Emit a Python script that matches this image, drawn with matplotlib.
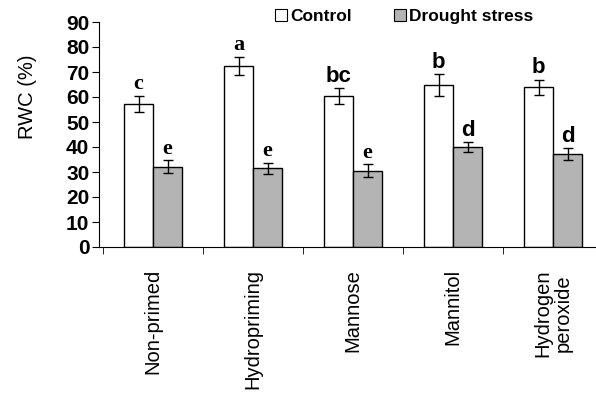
import numpy as np
import matplotlib
matplotlib.use("Agg")
from matplotlib import pyplot as plt
from matplotlib.patches import Patch

# data
treatments = ["Non-primed", "Hydropriming", "Mannose", "Mannitol", "Hydrogen\nperoxide"]
control = [57.3, 72.5, 60.4, 64.8, 63.9]
control_err = [3.2, 3.6, 3.2, 4.3, 3.0]
drought = [32.1, 31.5, 30.5, 39.9, 37.2]
drought_err = [2.6, 2.2, 2.6, 2.0, 2.3]
control_letters = ["c", "a", "bc", "b", "b"]
drought_letters = ["e", "e", "e", "d", "d"]

fig = plt.figure(figsize=(5.96, 3.98), dpi=100)
ax = fig.add_axes([99/596, 151/398, 497/596, 225/398])

x = np.arange(len(treatments))
w = 0.29
ax.bar(x + 0.355, control, w, color="white", edgecolor="black", linewidth=1,
       yerr=control_err, error_kw=dict(ecolor="black", elinewidth=1, capsize=3.5, capthick=1))
ax.bar(x + 0.645, drought, w, color="#b4b4b4", edgecolor="black", linewidth=1,
       yerr=drought_err, error_kw=dict(ecolor="black", elinewidth=1, capsize=3.5, capthick=1))

# significance letters (some serif, some sans in the original)
serif_letters = {"a", "c", "e"}
for i in range(len(treatments)):
    for xs, val, err, lab in [(x[i] + 0.355, control[i], control_err[i], control_letters[i]),
                              (x[i] + 0.645, drought[i], drought_err[i], drought_letters[i])]:
        fam = "Liberation Serif" if lab in serif_letters else "Liberation Sans"
        ax.text(xs, val + err + 0.6, lab, ha="center", va="bottom", fontsize=16,
                fontweight="bold", family=fam)

ax.set_xlim(-0.04, 4.93)
ax.set_ylim(0, 90)
ax.set_yticks(range(0, 91, 10))
ax.set_yticklabels([str(v) for v in range(0, 91, 10)], fontsize=15, fontweight="bold",
                   family="Liberation Sans")
ax.set_xticks(x + 0.5)
ax.set_xticklabels(treatments, rotation=90, fontsize=14.5, family="Liberation Sans",
                   va="top", ha="center", linespacing=1.05)
ax.set_xticks(np.arange(0, 5), minor=True)
ax.tick_params(axis="x", which="major", length=0, pad=16)
ax.tick_params(axis="x", which="minor", length=5, direction="out")
ax.tick_params(axis="y", length=5, direction="out", pad=2)
ax.spines["top"].set_visible(False)
ax.spines["right"].set_visible(False)
ax.set_ylabel("RWC (%)", fontsize=14.5, family="Liberation Sans")
ax.yaxis.set_label_coords(-0.124, 0.667)

handles = [Patch(facecolor="white", edgecolor="black", linewidth=0.8, label="Control"),
           Patch(facecolor="#b4b4b4", edgecolor="black", linewidth=0.8, label="Drought stress")]
fig.legend(handles=handles, loc="upper left", bbox_to_anchor=(266/596, 1.0), ncol=2,
           frameon=False, prop=dict(family="Liberation Sans", size=12.5, weight="bold"),
           handlelength=0.7, handleheight=0.7, handletextpad=0.2, columnspacing=2.4,
           borderaxespad=0.1)

fig.savefig("out.png", dpi=100)
